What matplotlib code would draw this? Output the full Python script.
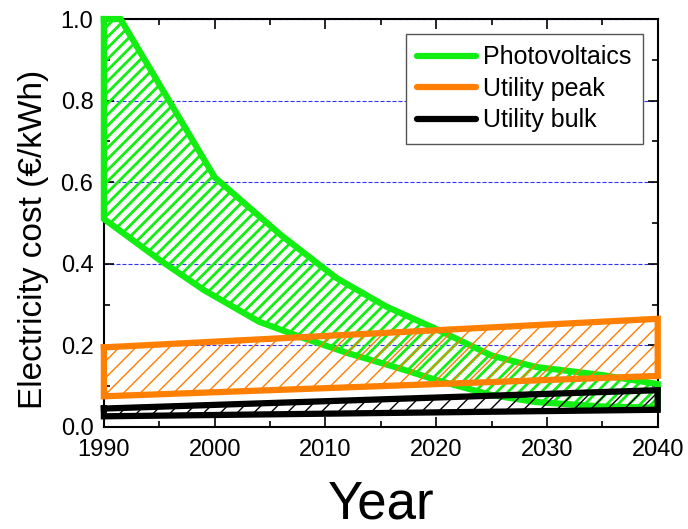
import matplotlib
matplotlib.use("Agg")
import matplotlib.pyplot as plt
from matplotlib.ticker import MultipleLocator
import numpy as np

plt.rcParams['font.family'] = ['Liberation Sans', 'DejaVu Sans']

# Photovoltaics band
pv_years = [1990, 1991.5, 2000, 2006, 2011, 2015.5, 2020, 2025, 2029, 2035, 2040]
pv_high = [1.0, 1.0, 0.612, 0.47, 0.365, 0.295, 0.24, 0.175, 0.147, 0.127, 0.105]
pv_low_years = [1990, 1995, 1999, 2004, 2008, 2012, 2016.5, 2020, 2025, 2029, 2035, 2040]
pv_low = [0.51, 0.41, 0.336, 0.258, 0.218, 0.181, 0.145, 0.115, 0.078, 0.061, 0.05, 0.047]

# Utility peak band
peak_years = [1990, 2040]
peak_high = [0.195, 0.265]
peak_low = [0.075, 0.125]

# Utility bulk band
bulk_years = [1990, 2040]
bulk_high = [0.045, 0.09]
bulk_low = [0.026, 0.042]

green = '#12ee12'
orange = '#ff7f00'
black = '#000000'

fig = plt.figure(figsize=(6.88, 5.29), dpi=100)
ax = fig.add_axes([0.151, 0.193, 0.805, 0.771])


def band(xh, yh, xl, yl, color, hatch, hlw, lw, z, label):
    xh = np.asarray(xh, float); yh = np.asarray(yh, float)
    xl = np.asarray(xl, float); yl = np.asarray(yl, float)
    xs = np.union1d(xh, xl)
    hi = np.interp(xs, xh, yh)
    lo = np.interp(xs, xl, yl)
    poly = ax.fill_between(xs, lo, hi, facecolor='none', edgecolor=color,
                           hatch=hatch, linewidth=0, zorder=z)
    if hasattr(poly, 'set_hatch_linewidth'):
        poly.set_hatch_linewidth(hlw)
    ox = np.concatenate([xh, xl[::-1], xh[:1]])
    oy = np.concatenate([yh, yl[::-1], yh[:1]])
    ax.plot(ox, oy, color=color, lw=lw, solid_joinstyle='miter',
            zorder=z + 0.5, clip_on=False)
    ax.plot([], [], color=color, lw=lw, solid_capstyle='round', label=label)


band(pv_years, pv_high, pv_low_years, pv_low, green, '///', 2.0, 4.5, 3, 'Photovoltaics')
band(peak_years, peak_high, peak_years, peak_low, orange, '//', 1.0, 4.5, 4, 'Utility peak')
band(bulk_years, bulk_high, bulk_years, bulk_low, black, '//', 1.0, 4.5, 5, 'Utility bulk')

ax.set_xlim(1990, 2040)
ax.set_ylim(0, 1.0)
ax.xaxis.set_major_locator(MultipleLocator(10))
ax.xaxis.set_minor_locator(MultipleLocator(5))
ax.yaxis.set_major_locator(MultipleLocator(0.2))
ax.yaxis.set_minor_locator(MultipleLocator(0.1))
ax.yaxis.set_major_formatter(plt.FuncFormatter(lambda v, p: f'{v:.1f}'))

ax.yaxis.grid(True, which='major', color='#3030ff', dashes=(3.6, 1.8), lw=0.8, zorder=1)
ax.set_axisbelow(True)

ax.tick_params(which='both', direction='in', top=True, right=True, labelsize=17,
               width=1.2, colors='black')
ax.tick_params(which='major', length=7)
ax.tick_params(which='minor', length=4)
ax.tick_params(axis='x', which='major', pad=9)
ax.tick_params(axis='y', which='major', pad=7.5)
for s in ax.spines.values():
    s.set_linewidth(1.5)
    s.set_zorder(2.5)

ax.set_xlabel('Year', fontsize=38, labelpad=13)
ax.set_ylabel('Electricity cost (€/kWh)', fontsize=24, labelpad=8)
ax.yaxis.label.set_y(0.46)

leg = ax.legend(loc='upper right', fontsize=18, frameon=True, fancybox=False,
                edgecolor='#555555', framealpha=1, handlelength=2.35,
                borderaxespad=0.6, labelspacing=0.3, handletextpad=0.3,
                borderpad=0.45)
leg.get_frame().set_linewidth(1.0)
leg.set_zorder(10)

fig.savefig('out.png', dpi=100)
